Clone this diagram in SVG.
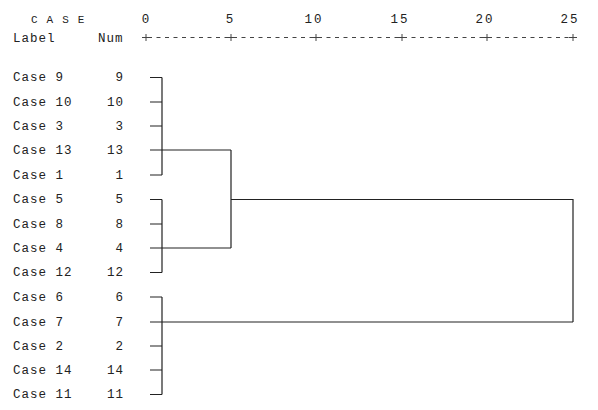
<svg xmlns="http://www.w3.org/2000/svg" width="598" height="410" viewBox="0 0 598 410">
<style>
text{font-family:"Liberation Mono","DejaVu Sans Mono",monospace;font-size:12.5px;fill:#222;letter-spacing:1px}
.n{text-anchor:end}
.t{text-anchor:middle}
.ln{stroke:#222;stroke-width:1.2;fill:none}
.ax{stroke:#444;stroke-width:1;fill:none}
</style>
<rect width="598" height="410" fill="#fff"/>
<g id="header">
<text x="31" y="23" style="letter-spacing:9px;font-size:11px">CASE</text>
<text x="13" y="42">Label</text>
<text x="98" y="42">Num</text>
<text class="t" x="146" y="23">0</text>
<text class="t" x="230" y="23">5</text>
<text class="t" x="314" y="23" style="letter-spacing:2px">10</text>
<text class="t" x="400" y="23" style="letter-spacing:2px">15</text>
<text class="t" x="485" y="23" style="letter-spacing:2px">20</text>
<text class="t" x="570" y="23" style="letter-spacing:2px">25</text>
</g>
<g id="axis">
<line class="ax" x1="148" y1="37.5" x2="571" y2="37.5" stroke-dasharray="4 4.5"/>
<path class="ax" d="M146 34v7M142 37.5h8M231 34v7M227 37.5h8M316 34v7M312 37.5h8M402 34v7M398 37.5h8M487 34v7M483 37.5h8M573 34v7M569 37.5h8"/>
</g>
<g id="labels">
<g id="case9"><text x="13" y="81">Case 9</text><text class="n" x="124" y="81">9</text></g>
<g id="case10"><text x="13" y="106">Case 10</text><text class="n" x="124" y="106">10</text></g>
<g id="case3"><text x="13" y="130">Case 3</text><text class="n" x="124" y="130">3</text></g>
<g id="case13"><text x="13" y="154">Case 13</text><text class="n" x="124" y="154">13</text></g>
<g id="case1"><text x="13" y="179">Case 1</text><text class="n" x="124" y="179">1</text></g>
<g id="case5"><text x="13" y="203">Case 5</text><text class="n" x="124" y="203">5</text></g>
<g id="case8"><text x="13" y="228">Case 8</text><text class="n" x="124" y="228">8</text></g>
<g id="case4"><text x="13" y="252">Case 4</text><text class="n" x="124" y="252">4</text></g>
<g id="case12"><text x="13" y="276">Case 12</text><text class="n" x="124" y="276">12</text></g>
<g id="case6"><text x="13" y="301">Case 6</text><text class="n" x="124" y="301">6</text></g>
<g id="case7"><text x="13" y="326">Case 7</text><text class="n" x="124" y="326">7</text></g>
<g id="case2"><text x="13" y="350">Case 2</text><text class="n" x="124" y="350">2</text></g>
<g id="case14"><text x="13" y="374">Case 14</text><text class="n" x="124" y="374">14</text></g>
<g id="case11"><text x="13" y="398">Case 11</text><text class="n" x="124" y="398">11</text></g>
</g>
<g id="connectors">
<path class="ln" d="M150 77.5h12M150 102h12M150 126h12M150 175h12M162 77.5V175M150 150H231"/>
<path class="ln" d="M150 199.5h12M150 224h12M150 272.5h12M162 199.5V272.5M150 248H231"/>
<path class="ln" d="M231 150V248M231 199.5H573V322"/>
<path class="ln" d="M150 297h12M150 346h12M150 370h12M150 394.5h12M162 297V394.5M150 322H573"/>
</g>
</svg>
